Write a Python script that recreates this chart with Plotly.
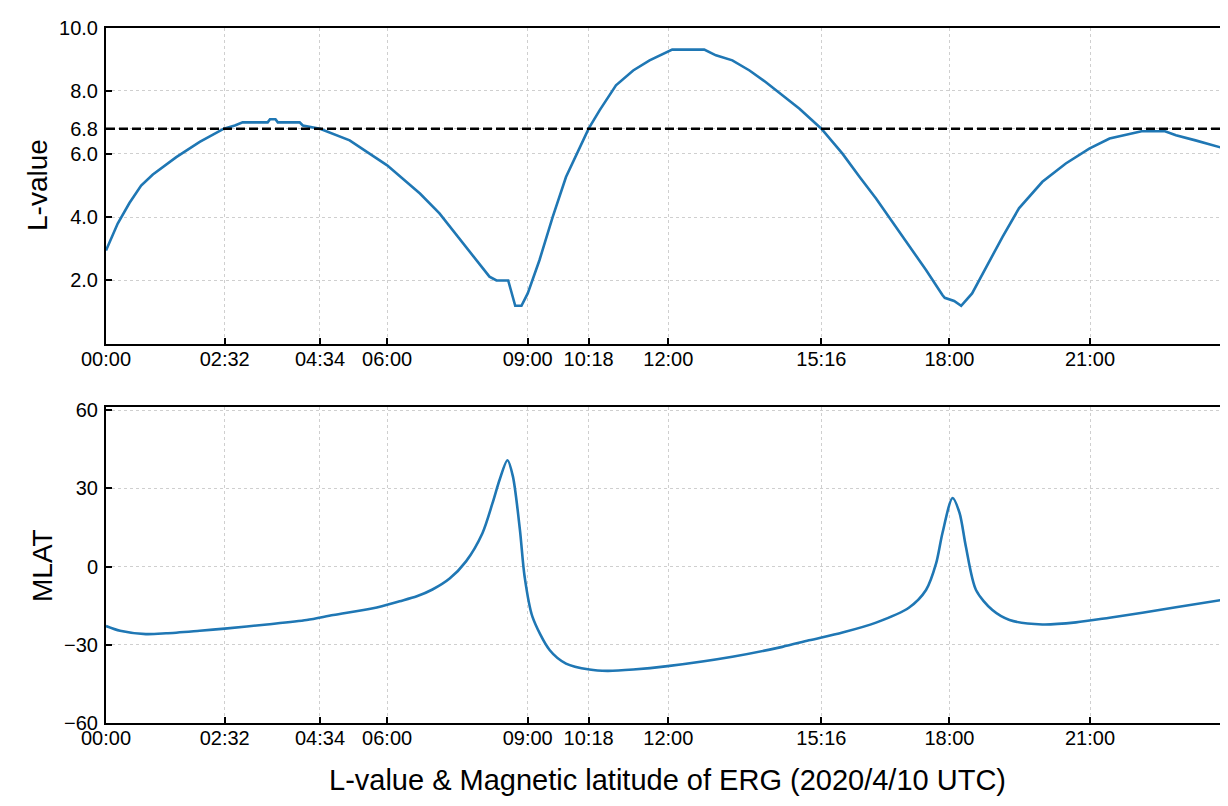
import plotly.graph_objects as go

DATE = "2020-04-10"

# ---- L-value (top panel) ----
l_times = ["00:00", "00:15", "00:30", "00:45", "01:00", "01:30", "02:00", "02:31", "02:45", "02:55",
           "03:27", "03:30", "03:37", "03:40", "04:08", "04:12", "04:34", "05:12", "06:00",
           "06:42", "07:07", "07:41", "08:11", "08:20", "08:35", "08:44", "08:52", "09:00",
           "09:15", "09:32", "09:49", "10:18", "10:32", "10:53", "11:15", "11:36", "11:58",
           "12:05", "12:46", "13:01", "13:22", "13:44", "14:05", "14:26", "14:48", "15:16",
           "15:43", "16:05", "16:26", "16:47", "17:08", "17:30", "17:51", "17:54", "18:06",
           "18:15", "18:29", "18:47", "19:08", "19:29", "19:59", "20:29", "20:59", "21:25",
           "21:46", "22:06", "22:36", "22:50", "23:15", "23:54", "24:00"]
l_values = [2.95, 3.8, 4.45, 5.0, 5.35, 5.9, 6.38, 6.8, 6.9, 7.0,
            7.0, 7.1, 7.1, 7.0, 7.0, 6.9, 6.8, 6.43, 5.64,
            4.75, 4.12, 3.06, 2.12, 2.0, 2.0, 1.2, 1.2, 1.59,
            2.64, 4.01, 5.27, 6.8, 7.38, 8.17, 8.64, 8.96, 9.2,
            9.3, 9.3, 9.12, 8.96, 8.64, 8.27, 7.85, 7.43, 6.8,
            6.01, 5.27, 4.59, 3.85, 3.12, 2.33, 1.54, 1.45, 1.35,
            1.2, 1.59, 2.43, 3.38, 4.28, 5.12, 5.7, 6.17, 6.49,
            6.61, 6.72, 6.72, 6.59, 6.43, 6.17, 6.12]
L_THRESHOLD = 6.8

# ---- MLAT (bottom panel) ----
m_times = ["00:00", "00:18", "00:51", "01:17", "02:00", "02:32", "03:26", "04:17", "04:51",
           "05:42", "06:16", "06:38", "06:58", "07:20", "07:41", "08:02", "08:15", "08:24",
           "08:34", "08:41", "08:50", "08:56", "09:06", "09:28", "09:49", "10:19", "10:42",
           "11:15", "11:59", "13:22", "14:26", "15:00", "15:43", "16:26", "17:08", "17:30",
           "17:43", "17:51", "18:04", "18:13", "18:21", "18:34", "18:55", "19:17", "19:59",
           "20:42", "21:25", "22:07", "22:50", "24:00"]
m_values = [-22.8, -24.6, -25.9, -25.6, -24.6, -23.8, -22.2, -20.5, -18.6,
            -16.0, -13.3, -11.4, -8.8, -4.6, 2.0, 12.8, 24.4, 33.3,
            40.8, 34.6, 14.1, -3.8, -19.2, -32.0, -37.2, -39.5, -40.0,
            -39.5, -38.2, -34.6, -30.8, -28.3, -25.3, -21.5, -15.8, -9.0,
            1.3, 12.8, 26.3, 20.5, 7.7, -9.0, -16.7, -20.5, -22.2,
            -21.4, -19.6, -17.7, -15.6, -12.3]

tick_labels = ["00:00", "02:32", "04:34", "06:00", "09:00", "10:18", "12:00", "15:16", "18:00", "21:00"]
l_ticks = [2.0, 4.0, 6.0, 6.8, 8.0, 10.0]
l_tick_text = ["2.0", "4.0", "6.0", "6.8", "8.0", "10.0"]
m_ticks = [-60, -30, 0, 30, 60]
m_tick_text = ["\u221260", "\u221230", "0", "30", "60"]


def to_ts(hhmm):
    if hhmm == "24:00":
        return "2020-04-11 00:00:00"
    return f"{DATE} {hhmm}:00"


W, H = 1228, 806
BLUE = "#1f77b4"
FONT = "Liberation Sans, Arial, sans-serif"

fig = go.Figure()
fig.add_trace(go.Scatter(x=[to_ts(t) for t in l_times], y=l_values, mode="lines",
                         line=dict(color=BLUE, width=2.6), xaxis="x", yaxis="y",
                         showlegend=False, hoverinfo="skip"))
fig.add_trace(go.Scatter(x=[to_ts(t) for t in m_times], y=m_values, mode="lines",
                         line=dict(color=BLUE, width=2.6, shape="spline", smoothing=0.8),
                         xaxis="x2", yaxis="y2", showlegend=False, hoverinfo="skip"))

x_range = [f"{DATE} 00:00:00", "2020-04-11 00:00:00"]
tickvals = [to_ts(t) for t in tick_labels]

common_x = dict(type="date", range=x_range, tickmode="array", tickvals=tickvals,
                ticktext=tick_labels, ticks="inside", ticklen=6, tickwidth=1.5,
                tickcolor="black", showline=True, linecolor="black", linewidth=2,
                mirror=True, showgrid=True, gridcolor="#cfcfcf", gridwidth=0.8,
                griddash="dot", zeroline=False, ticklabelstandoff=-4,
                tickfont=dict(family=FONT, size=20, color="black"),
                domain=[98 / W, 1222.6 / W], automargin=False)
common_y = dict(tickmode="array", ticks="inside", ticklen=6, tickwidth=1.5,
                tickcolor="black", showline=True, linecolor="black", linewidth=2,
                mirror=True, showgrid=True, gridcolor="#cfcfcf", gridwidth=0.8,
                griddash="dot", zeroline=False, ticklabelstandoff=2,
                tickfont=dict(family=FONT, size=20, color="black"), automargin=False)

fig.update_layout(
    width=W, height=H,
    margin=dict(l=0, r=0, t=0, b=0),
    paper_bgcolor="white", plot_bgcolor="white",
    font=dict(family=FONT, color="black"),
    xaxis=dict(common_x, anchor="y"),
    yaxis=dict(common_y, range=[0, 10], tickvals=l_ticks, ticktext=l_tick_text,
               domain=[1 - 335.7 / H, 1 - 19.5 / H], anchor="x"),
    xaxis2=dict(common_x, anchor="y2"),
    yaxis2=dict(common_y, range=[-60, 61.2], tickvals=m_ticks, ticktext=m_tick_text,
                domain=[1 - 715 / H, 1 - 399 / H], anchor="x2"),
    shapes=[
        dict(type="line", xref="x domain", yref="y", x0=0, x1=1, y0=L_THRESHOLD, y1=L_THRESHOLD,
             line=dict(color="black", width=2.5, dash="9px,4px"), layer="above"),
    ],
    annotations=[
        dict(text="L-value", xref="paper", yref="paper", x=29 / W, y=1 - 177 / H,
             showarrow=False, textangle=-90, font=dict(family=FONT, size=28, color="black"),
             xanchor="center", yanchor="middle"),
        dict(text="MLAT", xref="paper", yref="paper", x=34 / W, y=1 - 558 / H,
             showarrow=False, textangle=-90, font=dict(family=FONT, size=28, color="black"),
             xanchor="center", yanchor="middle"),
        dict(text="L-value & Magnetic latitude of ERG (2020/4/10 UTC)", xref="paper",
             yref="paper", x=659 / W, y=1 - 772 / H, showarrow=False,
             font=dict(family=FONT, size=29, color="black"),
             xanchor="center", yanchor="middle"),
    ],
)

fig.write_html("out.html")
